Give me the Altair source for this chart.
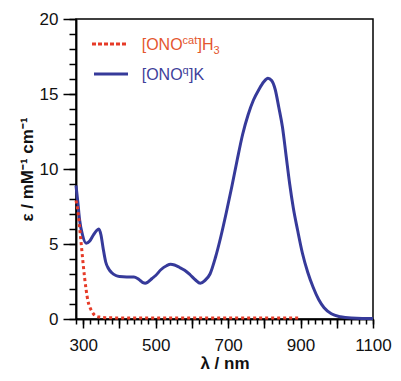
import altair as alt
import pandas as pd

# ---- data ----
blue_nm = [280, 285, 290, 298, 308, 318, 328, 337, 343, 349, 355, 362, 370, 378, 390, 400,
           420, 440, 450, 458, 465, 471, 478, 490, 500, 515, 530, 541, 552, 565, 580, 595,
           610, 623, 635, 650, 665, 680, 695, 710, 725, 740, 755, 770, 785, 798, 810, 820,
           830, 840, 850, 860, 870, 880, 892, 905, 920, 935, 950, 965, 985, 1010, 1040, 1070, 1100]
blue_eps = [8.9, 7.8, 6.6, 5.6, 5.05, 5.2, 5.6, 5.9, 6.0, 5.6, 4.7, 3.8, 3.35, 3.1, 2.9, 2.83,
            2.8, 2.8, 2.7, 2.55, 2.42, 2.38, 2.45, 2.7, 2.9, 3.3, 3.55, 3.65, 3.6, 3.45, 3.25, 2.95,
            2.6, 2.38, 2.55, 3.0, 4.1, 5.5, 7.1, 8.8, 10.6, 12.3, 13.6, 14.6, 15.3, 15.8, 16.05, 15.9,
            15.3, 14.1, 12.8, 10.9, 9.0, 7.4, 5.9, 4.4, 3.1, 2.1, 1.3, 0.75, 0.35, 0.15, 0.06, 0.04, 0.04]

red_nm = [280, 284, 288, 292, 296, 300, 304, 308, 313, 318, 323, 328, 335, 345, 360, 400,
          500, 600, 700, 800, 900]
red_eps = [7.9, 7.4, 6.6, 5.6, 4.6, 3.6, 2.7, 1.95, 1.2, 0.8, 0.55, 0.35, 0.2, 0.13, 0.09, 0.07,
           0.06, 0.06, 0.06, 0.06, 0.06]

x_major = list(range(300, 1101, 100))
x_minor = list(range(280, 1101, 20))
y_major = [0, 5, 10, 15, 20]
y_minor = list(range(0, 21))

BLUE = "#363a9a"
RED = "#e63b28"
FONT = "Liberation Sans"

blue_df = pd.DataFrame({"nm": blue_nm, "eps": blue_eps})
red_df = pd.DataFrame({"nm": red_nm, "eps": red_eps})

x_scale = alt.Scale(domain=[280, 1100], nice=False, zero=False)
y_scale = alt.Scale(domain=[0, 20], nice=False)

common = dict(grid=False, tickColor="black", tickWidth=1.5,
              domainColor="black", domainWidth=1.5)

x_axis_major = alt.Axis(
    orient="bottom", values=x_major, tickSize=9, format="d",
    labelExpr="datum.value % 200 == 100 ? datum.label : ''",
    labelOverlap=False, labelFlush=False,
    labelFont=FONT, labelFontSize=17, labelColor="#111", labelPadding=9,
    title="λ / nm", titleFont=FONT, titleFontSize=17, titleFontWeight="bold",
    titleColor="#111", titlePadding=2, **common,
)
x_axis_minor = alt.Axis(orient="bottom", values=x_minor, tickSize=5,
                        labels=False, title=None, **common)
y_axis_major = alt.Axis(
    orient="left", values=y_major, tickSize=13,
    labelOverlap=False, labelFlush=False,
    labelFont=FONT, labelFontSize=17, labelColor="#111", labelPadding=5,
    title="ε / mM⁻¹ cm⁻¹", titleFont=FONT, titleFontSize=17, titleFontWeight="bold",
    titleColor="#111", titlePadding=3, **common,
)
y_axis_minor = alt.Axis(orient="left", values=y_minor, tickSize=7,
                        labels=False, title=None, **common)

blue_line = alt.Chart(blue_df).mark_line(
    color=BLUE, strokeWidth=3, interpolate="monotone"
).encode(
    x=alt.X("nm:Q", scale=x_scale, axis=x_axis_major),
    y=alt.Y("eps:Q", scale=y_scale, axis=y_axis_major),
)

red_line = alt.Chart(red_df).mark_line(
    color=RED, strokeWidth=3, strokeDash=[3, 3], interpolate="monotone"
).encode(
    x=alt.X("nm:Q", scale=x_scale, axis=x_axis_minor),
    y=alt.Y("eps:Q", scale=y_scale, axis=y_axis_minor),
)

# ---- hand-built legend (rich text with super/subscripts) ----
def seg(text, x, y, size, color):
    return alt.Chart(pd.DataFrame({"t": [text]})).mark_text(
        align="left", baseline="alphabetic", font=FONT, fontSize=size, color=color
    ).encode(x=alt.value(x), y=alt.value(y), text="t:N")

def rule(x1, x2, y, color, dash=None):
    kw = dict(color=color, strokeWidth=3)
    if dash:
        kw["strokeDash"] = dash
    return alt.Chart(pd.DataFrame({"a": [0]})).mark_rule(**kw).encode(
        x=alt.value(x1), x2=alt.value(x2), y=alt.value(y))

RED_TXT = "#e4562f"
BLUE_TXT = "#40409a"
legend = [
    rule(16, 50, 25, RED, [4, 2]),
    seg("[ONO", 65.7, 31, 16, RED_TXT),
    seg("cat", 106.6, 25, 11, RED_TXT),
    seg("]H", 121.5, 31, 16, RED_TXT),
    seg("3", 137.5, 35, 11, RED_TXT),
    rule(18, 52, 55, BLUE),
    seg("[ONO", 65.7, 60.5, 16, BLUE_TXT),
    seg("q", 106.6, 54.5, 11, BLUE_TXT),
    seg("]K", 113.0, 60.5, 16, BLUE_TXT),
]

chart = alt.layer(blue_line, red_line, *legend).resolve_axis(
    x="independent", y="independent"
).properties(
    width=297, height=300,
    autosize=alt.AutoSizeParams(type="none"),
    padding={"left": 68, "top": 11, "right": 20, "bottom": 54},
).configure_view(stroke="black", strokeWidth=1.5)

chart.save("out.html", embed_options={"renderer": "svg", "actions": False})
